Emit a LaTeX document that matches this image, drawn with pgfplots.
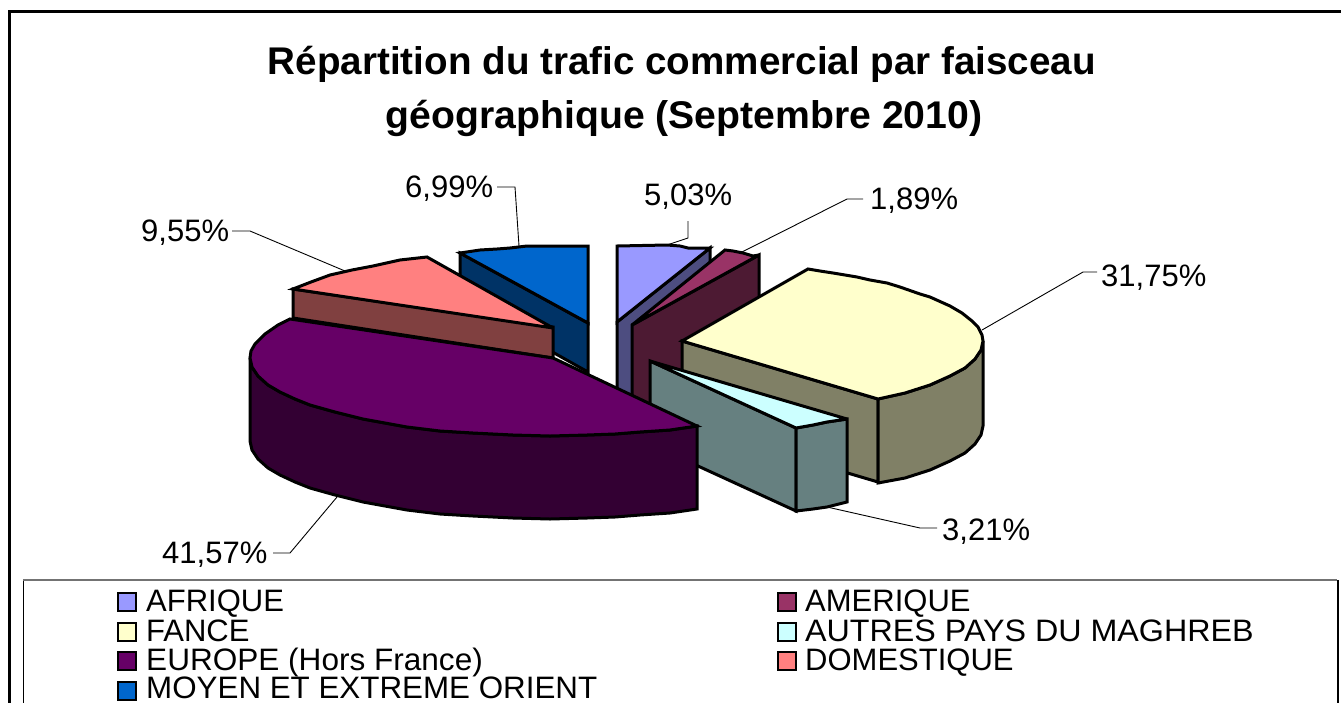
\documentclass[border=0pt]{standalone}
\usepackage{graphicx}
\usepackage{fontspec}
\setmainfont{Liberation Sans}
\usepackage{pgfplots}
\pgfplotsset{compat=1.18}
\definecolor{cAf}{HTML}{9999FF}\definecolor{cAfS}{HTML}{4D4D80}
\definecolor{cAm}{HTML}{993366}\definecolor{cAmS}{HTML}{4D1A33}
\definecolor{cFr}{HTML}{FFFFCC}\definecolor{cFrS}{HTML}{808066}
\definecolor{cMa}{HTML}{CCFFFF}\definecolor{cMaS}{HTML}{668080}
\definecolor{cEu}{HTML}{660066}\definecolor{cEuS}{HTML}{330033}
\definecolor{cDo}{HTML}{FF8080}\definecolor{cDoS}{HTML}{804040}
\definecolor{cMo}{HTML}{0066CC}\definecolor{cMoS}{HTML}{003366}
\newcommand{\lbl}{\fontsize{31}{31}\selectfont}
\newcommand{\leg}{\fontsize{31}{31}\selectfont}
\pgfplotsset{
 pie/.style={draw=black,line width=3pt,line join=miter,miter limit=4,fill=#1,mark=none},
 lead/.style={draw=black,line width=0.9pt,mark=none},
 swatch/.style={draw=black,line width=2pt,fill=#1,mark=none},
}
\begin{document}
\begin{tikzpicture}[x=1pt,y=1pt]
\path[use as bounding box] (0,0) rectangle (1341pt,702pt);
\begin{axis}[at={(0,0)},anchor=south west,scale only axis,width=1341pt,height=702pt,
 xmin=0,xmax=1341,ymin=0,ymax=702,y dir=reverse,hide axis,clip=true]
% frames
\addplot[draw=black,line width=3pt,mark=none] coordinates {(9.5,720)(9.5,11.5)(1360,11.5)};
\addplot[draw=black,line width=1pt,mark=none,fill=white] coordinates {(23.5,720)(23.5,580)(1337,580)(1337,720)} --cycle;
\addplot[draw=black!55,line width=1.6pt,mark=none] coordinates {(23,580)(1337,580)};
\addplot[draw=black,line width=2pt,mark=none] coordinates {(1337.5,580)(1337.5,720)};
% MOYEN
\addplot[pie=cMoS] coordinates {(460,253)(588,323)(588,372)(460,300)} --cycle;
\addplot[pie=cMo] coordinates {(460,253)(480,250)(497,249)(510,248)(527,246)(588,246)(588,323)} --cycle;
% DOMESTIQUE
\addplot[pie=cDoS] coordinates {(293,289)(553,327)(553,358)(293,318)} --cycle;
\addplot[pie=cDo] coordinates {(293,289)(311,282)(330,275)(352,270)(373,266)(400,260)(427,257)(553,328)} --cycle;
% AFRIQUE
\addplot[pie=cAfS] coordinates {(710,248)(617,322)(617,410)(710,340)} --cycle;
\addplot[pie=cAf] coordinates {(617,246)(667,245)(680,246)(688,248)(710,248)(617,322)} --cycle;
% AMERIQUE
\addplot[pie=cAmS] coordinates {(632,325)(759,255)(759,340)(632,420)} --cycle;
\addplot[pie=cAm] coordinates {(632,325)(725,250)(733,251)(743,253)(753,256)(759,255)} --cycle;
% FRANCE
\addplot[pie=cFrS] coordinates {(682,341)(878,399)(878,482)(682,424)} --cycle;
\addplot[pie=cFrS] coordinates {(878,399)(905,393)(930,385)(950,376)(965,368)(975,359)(981,350)(983,341)(983,426)(981,435)(975,444)(965,453)(950,461)(930,470)(905,478)(878,483)} --cycle;
\addplot[pie=cFr] coordinates {(682,341)(808,269)(820,271)(833,273)(845,275)(857,277)(870,280)(887,283)(900,287)(920,294)(930,297)(950,306)(962,313)(972,321)(978,327)(982,335)(983,341)(981,350)(975,359)(965,368)(950,376)(930,385)(905,393)(878,399)} --cycle;
% MAGHREB
\addplot[pie=cMaS] coordinates {(650,361)(796,428)(796,511)(650,444)} --cycle;
\addplot[pie=cMaS] coordinates {(796,428)(813,425)(827,422)(847,419)(847,502)(827,507)(813,509)(796,511)} --cycle;
\addplot[pie=cMa] coordinates {(650,361)(847,419)(827,422)(813,425)(796,428)} --cycle;
% EUROPE
\addplot[pie=cEuS] coordinates {(250,358)(252,367)(258,376)(268,385)(280,392)(295,399)(310,405)(335,412)(363,419)(385,423)(407,427)(440,431)(473,433)(513,435)(550,436)(587,435)(615,434)(640,432)(670,430)(697,426)(697,509)(670,513)(640,515)(615,517)(587,518)(550,519)(513,518)(473,516)(440,514)(407,510)(385,506)(363,502)(335,495)(310,488)(295,482)(280,475)(268,468)(258,459)(252,450)(250,441)} --cycle;
\addplot[pie=cEu] coordinates {(290,319)(278,325)(265,334)(255,344)(251,351)(250,358)(252,367)(258,376)(268,385)(280,392)(295,399)(310,405)(335,412)(363,419)(385,423)(407,427)(440,431)(473,433)(513,435)(550,436)(587,435)(615,434)(640,432)(670,430)(697,426)(553,358)} --cycle;
% leaders
\addplot[lead] coordinates {(497,187)(515,187)(519,246)};
\addplot[lead] coordinates {(232,231)(250,231)(345,271)};
\addplot[lead] coordinates {(688,221)(688,238)(667,245)};
\addplot[lead] coordinates {(863,199)(847,199)(740,253)};
\addplot[lead] coordinates {(1097,272)(1083,272)(982,330)};
\addplot[lead] coordinates {(937,528)(920,528)(827,507)};
\addplot[lead] coordinates {(273,553)(290,553)(337,497)};
% legend swatches
\addplot[swatch=cAf] coordinates {(118,593)(136,593)(136,611)(118,611)} --cycle;
\addplot[swatch=cFr] coordinates {(118,623)(136,623)(136,641)(118,641)} --cycle;
\addplot[swatch=cEu] coordinates {(118,652)(136,652)(136,670)(118,670)} --cycle;
\addplot[swatch=cMo] coordinates {(118,682)(136,682)(136,700)(118,700)} --cycle;
\addplot[swatch=cAm] coordinates {(778,593)(796,593)(796,611)(778,611)} --cycle;
\addplot[swatch=cMa] coordinates {(778,623)(796,623)(796,641)(778,641)} --cycle;
\addplot[swatch=cDo] coordinates {(778,652)(796,652)(796,670)(778,670)} --cycle;
% title
\node[anchor=base,inner sep=0,font=\fontsize{38.6}{38.6}\selectfont\bfseries] at (axis cs:682,74) {Répartition du trafic commercial par faisceau};
\node[anchor=base,inner sep=0,font=\fontsize{38.6}{38.6}\selectfont\bfseries] at (axis cs:684,128) {\scalebox{1.015}[1]{géographique (Septembre 2010)}};
% data labels
\node[anchor=west,inner sep=0,font=\lbl] at (axis cs:405,189) {6,99\%};
\node[anchor=west,inner sep=0,font=\lbl] at (axis cs:141,233) {9,55\%};
\node[anchor=west,inner sep=0,font=\lbl] at (axis cs:644,197) {5,03\%};
\node[anchor=west,inner sep=0,font=\lbl] at (axis cs:870,201) {1,89\%};
\node[anchor=west,inner sep=0,font=\lbl] at (axis cs:1101,278) {31,75\%};
\node[anchor=west,inner sep=0,font=\lbl] at (axis cs:942,532) {3,21\%};
\node[anchor=west,inner sep=0,font=\lbl] at (axis cs:162,555) {41,57\%};
% legend text
\node[anchor=base west,inner sep=0,font=\leg] at (axis cs:146,611) {AFRIQUE};
\node[anchor=base west,inner sep=0,font=\leg] at (axis cs:146,641) {FANCE};
\node[anchor=base west,inner sep=0,font=\leg] at (axis cs:146,670) {\scalebox{1.018}[1]{EUROPE (Hors France)}};
\node[anchor=base west,inner sep=0,font=\leg] at (axis cs:146,698) {\scalebox{1.011}[1]{MOYEN ET EXTREME ORIENT}};
\node[anchor=base west,inner sep=0,font=\leg] at (axis cs:805,611) {AMERIQUE};
\node[anchor=base west,inner sep=0,font=\leg] at (axis cs:805,641) {\scalebox{1.04}[1]{AUTRES PAYS DU MAGHREB}};
\node[anchor=base west,inner sep=0,font=\leg] at (axis cs:805,670) {DOMESTIQUE};
\end{axis}
\end{tikzpicture}
\end{document}
